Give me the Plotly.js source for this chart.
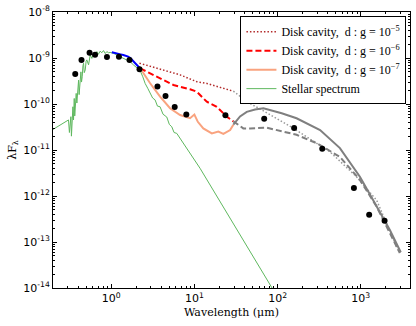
<!DOCTYPE html>
<html>
<head>
<meta charset="utf-8">
<script src="https://cdn.plot.ly/plotly-3.0.1.min.js"></script>
<style>html,body{margin:0;padding:0;background:#fff;}#chart{width:416px;height:326px;}</style>
</head>
<body>
<div id="chart"></div>
<script>
// Photometry (black dots)
const photX = [0.37, 0.44, 0.55, 0.64, 0.89, 1.24, 1.66, 2.19, 3.6, 4.5, 5.8, 8.0, 23.6, 69, 158, 344, 826, 1260, 1930];
const photY = [4.5e-10, 9.1e-10, 1.3e-9, 1.17e-9, 1.05e-9, 1.07e-9, 9.1e-10, 5.7e-10, 2.4e-10, 1.5e-10, 8.6e-11, 5.9e-11, 5.7e-11, 4.8e-11, 3.0e-11, 1.07e-11, 1.5e-12, 3.9e-13, 2.9e-13];

// Stellar spectrum (green)
const starX = [0.2, 0.307, 0.315, 0.322, 0.328, 0.333, 0.337, 0.342, 0.347, 0.353, 0.36, 0.365, 0.37, 0.375, 0.38, 0.387, 0.396, 0.406, 0.412, 0.417, 0.425, 0.433, 0.44, 0.449, 0.458, 0.466, 0.475, 0.488, 0.5, 0.51, 0.535, 0.56, 0.586, 0.614, 0.64, 0.673, 0.7, 0.738, 0.77, 0.809, 0.85, 0.887, 0.93, 0.973, 1.07, 1.17, 1.28, 1.41, 1.54, 1.69, 1.85, 2.03, 2.23, 2.4, 2.56, 2.75, 2.94, 3.15, 3.37, 3.6, 3.87, 4.2, 4.66, 5.0, 5.35, 5.7, 6.14, 11.7, 100];
const starY = [2.8e-11, 4.5e-11, 2.4e-11, 3.5e-11, 5.3e-11, 2.0e-11, 3.2e-11, 6.5e-11, 8.7e-11, 4.5e-11, 1.32e-10, 5.5e-11, 7.4e-11, 1.4e-10, 1.7e-10, 1.05e-10, 2.4e-10, 3.3e-10, 1.6e-10, 2.0e-10, 4.2e-10, 5.0e-10, 3.0e-10, 3.9e-10, 6.8e-10, 7.7e-10, 4.8e-10, 5.5e-10, 8.5e-10, 9.1e-10, 7.1e-10, 1.16e-9, 9.8e-10, 1.26e-9, 1.1e-9, 1.38e-9, 1.2e-9, 1.41e-9, 1.3e-9, 1.45e-9, 1.25e-9, 1.38e-9, 1.3e-9, 1.32e-9, 1.26e-9, 1.16e-9, 1.1e-9, 9.8e-10, 9.1e-10, 8.3e-10, 7.1e-10, 6.0e-10, 5.3e-10, 3.9e-10, 2.8e-10, 2.2e-10, 1.7e-10, 1.35e-10, 1.23e-10, 9.0e-11, 8.7e-11, 6.0e-11, 5.2e-11, 3.6e-11, 3.2e-11, 2.4e-11, 2.3e-11, 4.0e-12, 6.3e-15];

// Near-IR spectrum (blue)
const nirX = [1.02, 1.1, 1.2, 1.3, 1.4, 1.5, 1.6, 1.7, 1.8, 1.9, 2.0, 2.1, 2.23];
const nirY = [1.33e-9, 1.3e-9, 1.25e-9, 1.2e-9, 1.16e-9, 1.12e-9, 1.07e-9, 1.0e-9, 8.9e-10, 7.9e-10, 7.1e-10, 6.5e-10, 5.9e-10];

// Disk cavity d:g = 1e-5 (dotted)
const d5X = [2.19, 4.25, 6.73, 10.7, 14.1, 20.4, 29.4];
const d5Y = [7.7e-10, 5.5e-10, 4.3e-10, 3.05e-10, 2.8e-10, 2.3e-10, 1.9e-10];
const d5GreyX = [29.4, 44.7, 67.6, 153, 427, 891, 1549, 2786];
const d5GreyY = [1.9e-10, 1.07e-10, 7.1e-11, 3.0e-11, 9.1e-12, 2.6e-12, 8.1e-13, 6.8e-14];

// Disk cavity d:g = 1e-6 (dashed)
const d6X = [2.23, 3.54, 5.6, 8.87, 10.7, 14.1, 18.6, 24.5, 29.4];
const d6Y = [5.97e-10, 3.9e-10, 2.59e-10, 2.09e-10, 1.85e-10, 1.12e-10, 8.7e-11, 5.3e-11, 4.2e-11];
const d6GreyX = [29.4, 38.7, 46.7, 74, 169, 294, 561, 975, 1549, 2944];
const d6GreyY = [4.2e-11, 2.95e-11, 2.95e-11, 3.05e-11, 2.14e-11, 1.41e-11, 7.1e-12, 2.24e-12, 5.9e-13, 5.75e-14];

// Disk cavity d:g = 1e-7 (solid)
const d7X = [2.23, 2.94, 3.87, 5.1, 6.73, 8.87, 10.0, 11.0, 12.8, 16.2, 19.4, 22.3, 26.9, 29.4];
const d7Y = [5.97e-10, 2.82e-10, 1.45e-10, 8.1e-11, 5.75e-11, 4.9e-11, 5.9e-11, 4.1e-11, 2.95e-11, 2.29e-11, 2.51e-11, 2.24e-11, 2.72e-11, 3.55e-11];
const d7GreyX = [29.4, 35.4, 42.6, 53.6, 67.6, 81.1, 112, 169, 324, 561, 975, 1409, 2234, 3020];
const d7GreyY = [3.55e-11, 5.37e-11, 6.76e-11, 7.6e-11, 8.1e-11, 7.4e-11, 6.3e-11, 4.9e-11, 2.72e-11, 1.1e-11, 2.63e-12, 8.1e-13, 1.82e-13, 6.0e-14];

const labels = [
  'Disk cavity,  d : g = 10<sup>−5</sup>',
  'Disk cavity,  d : g = 10<sup>−6</sup>',
  'Disk cavity,  d : g = 10<sup>−7</sup>',
  'Stellar spectrum'
];

// Tick labels
const xTickVals = [1, 10, 100, 1000];
const xTickText = ['10<sup>0</sup>', '10<sup>1</sup>', '10<sup>2</sup>', '10<sup>3</sup>'];
const yTickVals = [1e-14, 1e-13, 1e-12, 1e-11, 1e-10, 1e-9, 1e-8];
const yTickText = ['10<sup>-14</sup>', '10<sup>-13</sup>', '10<sup>-12</sup>', '10<sup>-11</sup>', '10<sup>-10</sup>', '10<sup>-9</sup>', '10<sup>-8</sup>'];

function minorVals(lo, hi) {
  const out = [];
  for (let e = lo; e < hi; e++) for (let m = 2; m <= 9; m++) out.push(m * Math.pow(10, e));
  return out;
}

const grey = '#7f7f7f';
const traces = [
  {x: d5X, y: d5Y, mode: 'lines', name: labels[0], line: {color: '#b22a2a', width: 1.5, dash: '1.5px,2px'}},
  {x: d6X, y: d6Y, mode: 'lines', name: labels[1], line: {color: '#ff0000', width: 2, dash: '6px,3px'}},
  {x: d7X, y: d7Y, mode: 'lines', name: labels[2], line: {color: '#f9a37f', width: 2}},
  {x: starX, y: starY, mode: 'lines', name: labels[3], line: {color: '#5fb85f', width: 1}},
  {x: d5GreyX, y: d5GreyY, mode: 'lines', showlegend: false, line: {color: '#999999', width: 1.5, dash: '1.5px,2px'}},
  {x: d6GreyX, y: d6GreyY, mode: 'lines', showlegend: false, line: {color: grey, width: 2, dash: '6px,3px'}},
  {x: d7GreyX, y: d7GreyY, mode: 'lines', showlegend: false, line: {color: grey, width: 2}},
  {x: nirX, y: nirY, mode: 'lines', showlegend: false, line: {color: '#0000ff', width: 2}},
  {x: photX, y: photY, mode: 'markers', showlegend: false, marker: {color: '#000000', size: 6}}
];

const axisCommon = {
  type: 'log',
  showline: true, linecolor: '#000', linewidth: 1, mirror: 'allticks',
  ticks: 'inside', ticklen: 4, tickcolor: '#000', tickwidth: 1,
  showgrid: false, zeroline: false,
  tickmode: 'array',
  tickfont: {family: 'DejaVu Sans', size: 11, color: '#000'}
};

const layout = {
  width: 416, height: 326,
  margin: {l: 53, r: 6, t: 12, b: 38},
  paper_bgcolor: '#fff', plot_bgcolor: '#fff',
  xaxis: Object.assign({}, axisCommon, {
    range: [Math.log10(0.2), Math.log10(3900)],
    tickvals: xTickVals, ticktext: xTickText,
    minor: {tickmode: 'array', tickvals: minorVals(-1, 4), ticks: 'inside', ticklen: 2, tickcolor: '#000', showgrid: false},
    title: {text: 'Wavelength (μm)', font: {family: 'DejaVu Serif', size: 11, color: '#000'}, standoff: 4}
  }),
  yaxis: Object.assign({}, axisCommon, {
    range: [-14, -8],
    tickvals: yTickVals, ticktext: yTickText,
    minor: {tickmode: 'array', tickvals: minorVals(-14, -8), ticks: 'inside', ticklen: 2, tickcolor: '#000', showgrid: false},
    title: {text: 'λF<sub>λ</sub>', font: {family: 'DejaVu Serif', size: 11, color: '#000'}, standoff: 4}
  }),
  legend: {
    x: 0.99, xanchor: 'right', y: 0.985, yanchor: 'top',
    bgcolor: '#fff', bordercolor: '#000', borderwidth: 1,
    font: {family: 'Liberation Serif', size: 12, color: '#000'},
    tracegroupgap: 0
  },
  showlegend: true
};

Plotly.newPlot('chart', traces, layout, {displayModeBar: false, staticPlot: true});
</script>
</body>
</html>
